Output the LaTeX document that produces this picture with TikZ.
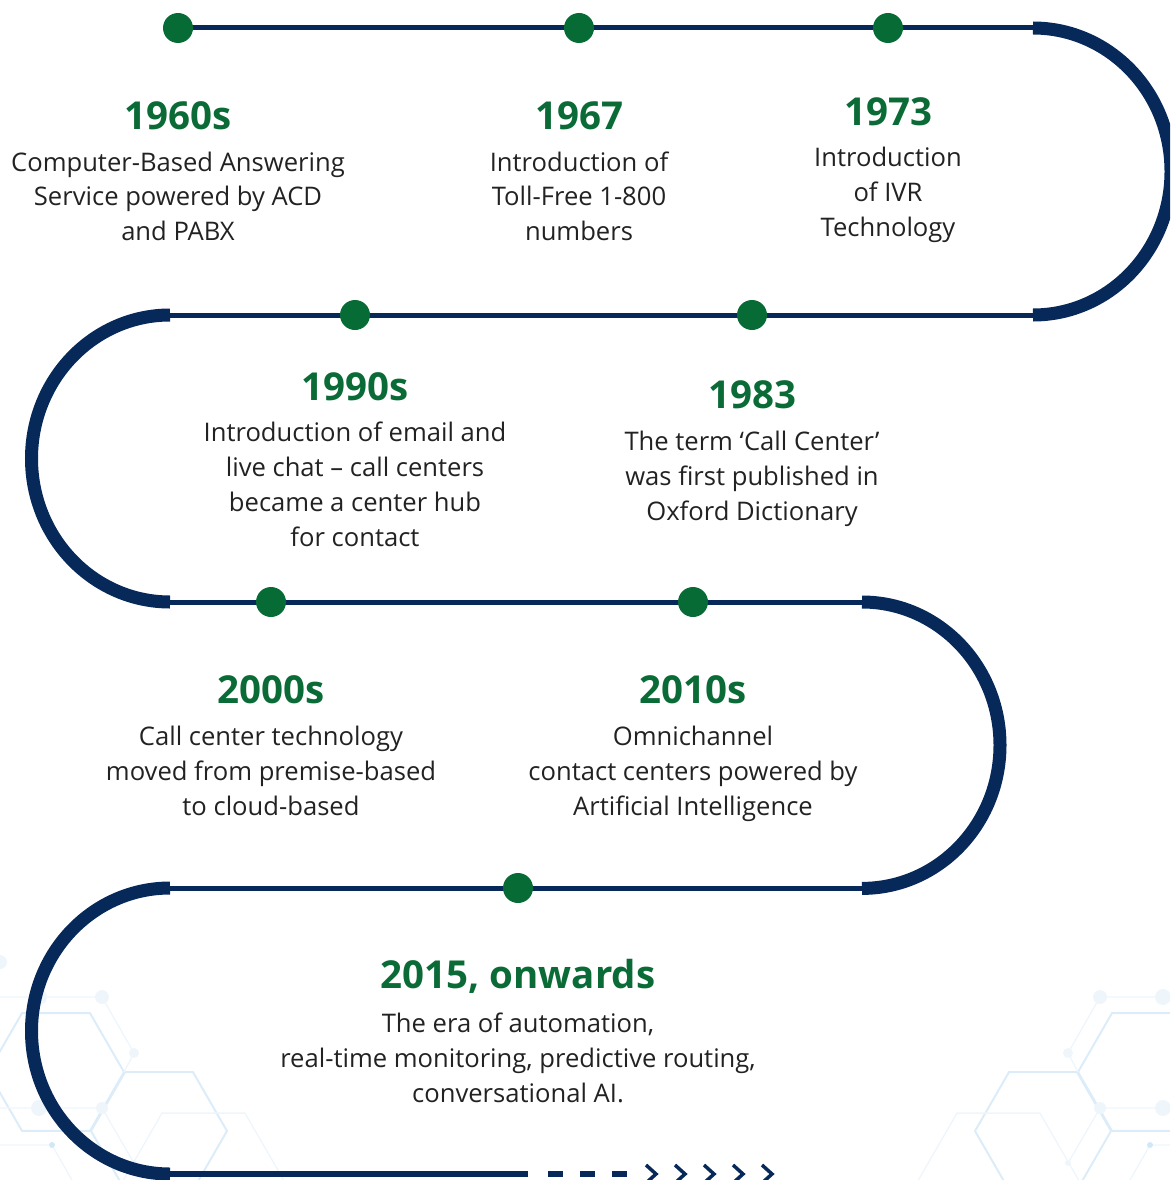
\documentclass[tikz,border=0pt]{standalone}
\usepackage{fontspec}
\setmainfont{Open Sans}
\definecolor{navy}{HTML}{06295A}
\definecolor{dotgreen}{HTML}{066B35}
\definecolor{yeargreen}{HTML}{0A6B37}
\definecolor{bodygray}{HTML}{222222}
\definecolor{hexstrong}{HTML}{DCEDF9}
\definecolor{hexfaint}{HTML}{EEF6FC}
\definecolor{hexdot}{HTML}{D3E8F7}
\newcommand\hexdeco{%
  \draw[hexline] (1146,1072) +(0:68) -- +(60:68) -- +(120:68) -- +(180:68) -- +(240:68) -- +(300:68) -- cycle;
  \draw[hexline] (1043,1131) +(0:68) -- +(60:68) -- +(120:68) -- +(180:68) -- +(240:68) -- +(300:68) -- cycle;
  \draw[hexthin] (998.5,1185) +(0:83) -- +(60:83) -- +(120:83) -- +(180:83) -- +(240:83) -- +(300:83) -- cycle;
  \draw[hexthin] (1078,1072) -- (1068,1053) -- (1100,997) -- (1210,997);
  \draw[hexthin] (1068,1163) -- (1100,1108) -- (1210,1108);
  \draw[hexthin] (1130,1180) -- (1150,1145) -- (1210,1145);
  \fill[hexfaint] (1100,997) circle[radius=7];
  \fill[hexfaint] (1163,997) circle[radius=8];
  \fill[hexfaint] (1068,1053) circle[radius=5];
  \fill[hexfaint] (1100,1108) circle[radius=6];
  \fill[hexfaint] (1163,1108) circle[radius=8];
  \fill[hexfaint] (1068,1163) circle[radius=3];
  \fill[hexfaint] (1202,962) circle[radius=7];
  \fill[hexdot] (1150,1145) circle[radius=3];
}
\begin{document}
\begin{tikzpicture}[x=1pt,y=-1pt,
  thinline/.style={draw=navy,line width=5pt},
  arcline/.style={draw=navy,line width=13pt},
  dot/.style={circle,fill=dotgreen,minimum size=30pt,inner sep=0pt},
  year/.style={anchor=base,inner sep=0pt,text=yeargreen,font=\fontsize{38.5}{42}\selectfont\bfseries},
  body/.style={anchor=base,inner sep=0pt,text=bodygray,font=\fontsize{25.6}{35}\selectfont},
  hexline/.style={draw=hexstrong,line width=2pt},
  hexthin/.style={draw=hexfaint,line width=1.3pt},
  chev/.style={draw=navy,line width=3.5pt}]
\useasboundingbox (0,0) rectangle (1170,1180);
\clip (0,0) rectangle (1170,1180);
% background decoration
\hexdeco
\begin{scope}[shift={(1202,0)},xscale=-1]
\hexdeco
\end{scope}
% path coordinates
\coordinate (r1s) at (178,28);
\coordinate (r1e) at (1033,28);
\coordinate (r2e) at (1033,315);
\coordinate (r2s) at (170,315);
\coordinate (r3s) at (170,602);
\coordinate (r3e) at (862,602);
\coordinate (r4e) at (862,888);
\coordinate (r4s) at (170,888);
\coordinate (r5s) at (170,1174);
\coordinate (r5e) at (528,1174);
% straight runs
\draw[thinline] (r1s) -- (r1e);
\draw[thinline] (r2s) -- (r2e);
\draw[thinline] (r3s) -- (r3e);
\draw[thinline] (r4s) -- (r4e);
\draw[thinline,line width=5.5pt] (r5s) -- (r5e);
% bends
\draw[arcline] (r1e) arc[start angle=-90,end angle=90,x radius=138,y radius=143.5];
\draw[arcline] (r2s) arc[start angle=-90,end angle=-270,x radius=138.5,y radius=143.5];
\draw[arcline] (r3e) arc[start angle=-90,end angle=90,x radius=138,y radius=143.2];
\draw[arcline] (r4s) arc[start angle=-90,end angle=-270,x radius=138.5,y radius=143];
% dashed continuation and chevrons
\coordinate (d1) at (548,1174);
\coordinate (d2) at (628,1174);
\draw[thinline,line width=5.5pt,dash pattern=on 15pt off 17pt] (d1) -- (d2);
\foreach \cx in {651,680,709,738,767}{
  \draw[chev] (\cx-5,1165) -- (\cx+5,1174) -- (\cx-5,1183);
}
% milestones
\node[dot] (m1) at (178,28) {};
\node[dot] (m2) at (579,28) {};
\node[dot] (m3) at (888,28) {};
\node[dot] (m4) at (355,315) {};
\node[dot] (m5) at (752,315) {};
\node[dot] (m6) at (271,602) {};
\node[dot] (m7) at (693,602) {};
\node[dot] (m8) at (518,888) {};
% texts
\node[year] (y1) at (178,130) {1960s};
\node[body] (b1) at (178,171) {\begin{tabular}[t]{@{}c@{}}Computer-Based Answering\\Service powered by ACD\\and PABX\end{tabular}};
\node[year] (y2) at (579,130) {1967};
\node[body] (b2) at (579,171) {\begin{tabular}[t]{@{}c@{}}Introduction of\\Toll-Free 1-800\\numbers\end{tabular}};
\node[year] (y3) at (888,125) {1973};
\node[body] (b3) at (888,166) {\begin{tabular}[t]{@{}c@{}}Introduction\\of IVR\\Technology\end{tabular}};
\node[year] (y4) at (355,400) {1990s};
\node[body] (b4) at (355,441) {\begin{tabular}[t]{@{}c@{}}Introduction of email and\\live chat – call centers\\became a center hub\\for contact\end{tabular}};
\node[year] (y5) at (752,408) {1983};
\node[body] (b5) at (752,450) {\begin{tabular}[t]{@{}c@{}}The term ‘Call Center’\\was first published in\\Oxford Dictionary\end{tabular}};
\node[year] (y6) at (271,703) {2000s};
\node[body] (b6) at (271,745) {\begin{tabular}[t]{@{}c@{}}Call center technology\\moved from premise-based\\to cloud-based\end{tabular}};
\node[year] (y7) at (693,703) {2010s};
\node[body] (b7) at (693,745) {\begin{tabular}[t]{@{}c@{}}Omnichannel\\contact centers powered by\\Artificial Intelligence\end{tabular}};
\node[year] (y8) at (518,988) {2015, onwards};
\node[body] (b8) at (518,1032) {\begin{tabular}[t]{@{}c@{}}The era of automation,\\real-time monitoring, predictive routing,\\conversational AI.\end{tabular}};
\end{tikzpicture}
\end{document}
